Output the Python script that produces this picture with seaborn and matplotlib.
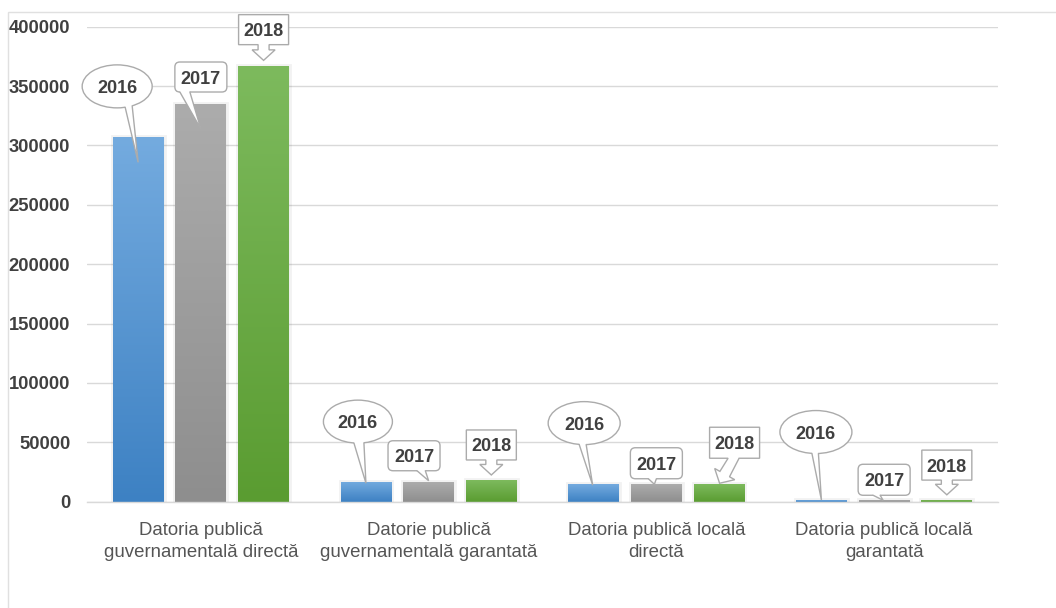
import numpy as np
import pandas as pd
import matplotlib
matplotlib.use("Agg")
import matplotlib.pyplot as plt
import matplotlib.patches as mpatches
import matplotlib.transforms as mtransforms
import matplotlib.patheffects as pe
from matplotlib.colors import LinearSegmentedColormap
import seaborn as sns

# ---- data -------------------------------------------------------------
CATEGORIES = [
    "Datoria publică\nguvernamentală directă",
    "Datorie publică\nguvernamentală garantată",
    "Datoria publică locală\ndirectă",
    "Datoria publică locală\ngarantată",
]
YEARS = ["2016", "2017", "2018"]
DEBT_2016 = [306800, 16900, 14800, 1400]
DEBT_2017 = [334900, 16800, 14700, 1200]
DEBT_2018 = [366600, 18300, 14700, 1600]
YTICKS = [0, 50000, 100000, 150000, 200000, 250000, 300000, 350000, 400000]
YTICK_LABELS = ["0", "50000", "100000", "150000", "200000", "250000",
                "300000", "350000", "400000"]

# ---- styling ----------------------------------------------------------
TOP_COLORS = {"2016": "#74abdf", "2017": "#acacac", "2018": "#7dba5d"}
BOTTOM_COLORS = {"2016": "#3d81c3", "2017": "#8e8e8e", "2018": "#5a9c31"}
MID_COLORS = {"2016": "#5b9bd5", "2017": "#a5a5a5", "2018": "#70ad47"}
GRID = "#d9d9d9"
TEXT = "#404040"
CALLOUT_EDGE = "#ababab"

# callout geometry in pixels, relative to the top-centre of each bar
CALLOUT_LAYOUT = {
    "2016": [  # oval callouts: centre, size, tip, wedge base (x rel. centre)
        dict(c=(-21, 51), w=70, h=43, tip=(0, -25), base=(8, 15)),
        dict(c=(-8, 60), w=69, h=43, tip=(0, -1.5), base=(-4, 6)),
        dict(c=(-9.5, 61), w=72, h=43, tip=(-1, -1), base=(-5, 2)),
        dict(c=(-5.5, 68), w=72, h=43, tip=(0, 0), base=(-4, 2.5)),
    ],
    "2017": [  # rounded rectangles: wedge base (x rel. bar centre)
        dict(c=(0, 27), w=52, h=30, tip=(0, -25), base=(-21, -11)),
        dict(c=(-14.6, 26), w=52, h=30, tip=(0, 1), base=(-11.6, -3.3)),
        dict(c=(0, 21), w=52, h=31, tip=(-2, 0), base=(-8, 0)),
        dict(c=(0, 20.5), w=52, h=31, tip=(-1, 0), base=(-11, -4)),
    ],
    "2018": [  # rectangles with a down arrow: arrow base offset from centre
        dict(c=(0, 36.7), w=50, h=30, tip=(0, 6), base=0),
        dict(c=(0, 35), w=50, h=30, tip=(0, 5), base=0),
        dict(c=(15.5, 41.5), w=50, h=31, tip=(0.5, 1), base=-1),
        dict(c=(0, 34.7), w=50, h=30, tip=(0, 5), base=0),
    ],
}

W, H, DPI = 1056, 608, 100

sns.set_theme(style="white")
plt.rcParams["font.family"] = ["Liberation Sans", "DejaVu Sans"]

df = pd.DataFrame({
    "categorie": CATEGORIES * 3,
    "an": [y for y in YEARS for _ in CATEGORIES],
    "valoare": DEBT_2016 + DEBT_2017 + DEBT_2018,
})

fig = plt.figure(figsize=(W / DPI, H / DPI), dpi=DPI)
ax = fig.add_axes([87 / W, 1 - 501.7 / H, (998 - 87) / W, (501.7 - 26.7) / H])

sns.barplot(data=df, x="categorie", y="valoare", hue="an",
            order=CATEGORIES, hue_order=YEARS,
            palette=[MID_COLORS[y] for y in YEARS],
            width=0.826, gap=0.19, linewidth=0, edgecolor="none",
            legend=False, errorbar=None, ax=ax, zorder=2)

ax.set_ylim(0, 400000)
ax.set_xlim(-0.5, len(CATEGORIES) - 0.5)

# vertical gradient fill + soft outer shadow on every bar
grad = np.linspace(0, 1, 256).reshape(-1, 1)
for year, container in zip(YEARS, ax.containers):
    cmap = LinearSegmentedColormap.from_list(
        year, [BOTTOM_COLORS[year], TOP_COLORS[year]])
    for bar in container:
        bar.set_path_effects([
            pe.Stroke(linewidth=3.5, foreground="black", alpha=0.05),
            pe.Normal(),
        ])
        x0, y0, bw, bh = bar.get_bbox().bounds
        im = ax.imshow(grad, cmap=cmap, origin="lower", aspect="auto",
                       extent=[x0, x0 + bw, y0, y0 + bh],
                       interpolation="bicubic", zorder=2.1)
        im.set_clip_path(bar)

ax.set_ylim(0, 400000)
ax.set_xlim(-0.5, len(CATEGORIES) - 0.5)

# axes, grid and ticks
ax.set_yticks(YTICKS)
ax.set_yticklabels(YTICK_LABELS)
ax.yaxis.grid(True, color=GRID, linewidth=1)
ax.set_axisbelow(True)
for side in ("top", "right", "left"):
    ax.spines[side].set_visible(False)
ax.spines["bottom"].set_color(GRID)
ax.spines["bottom"].set_linewidth(1)
ax.tick_params(axis="both", length=0)
ax.tick_params(axis="y", pad=12, labelsize=13.2, labelcolor=TEXT)
ax.tick_params(axis="x", pad=14.5, labelsize=13.4, labelcolor="#555555")
for lab in ax.get_yticklabels():
    lab.set_fontweight("bold")
for lab in ax.get_xticklabels():
    lab.set_linespacing(1.42)
ax.set_xlabel("")
ax.set_ylabel("")


def pixel_trans(x, y):
    return (mtransforms.Affine2D().scale(1 / fig.dpi) + fig.dpi_scale_trans
            + mtransforms.ScaledTranslation(x, y, ax.transData))


def draw_wedge(trans, b1, b2, tip, z):
    fill = mpatches.Polygon([(b1[0], b1[1] + 3), b1, tip, b2, (b2[0], b2[1] + 3)],
                            closed=True, facecolor="white", edgecolor="none",
                            transform=trans, zorder=z + 0.1, clip_on=False)
    ax.add_patch(fill)
    ax.plot([b1[0], tip[0], b2[0]], [b1[1], tip[1], b2[1]], color=CALLOUT_EDGE,
            lw=1, transform=trans, zorder=z + 0.2, clip_on=False,
            solid_joinstyle="miter")


def callout(year, x, y, spec, z):
    trans = pixel_trans(x, y)
    cx, cy = spec["c"]
    w, h = spec["w"], spec["h"]
    tip = spec["tip"]
    if year == "2016":
        ax.add_patch(mpatches.Ellipse((cx, cy), w, h, facecolor="white",
                                      edgecolor=CALLOUT_EDGE, lw=1,
                                      transform=trans, zorder=z, clip_on=False))
        pts = []
        for bx in spec["base"]:
            by = -(h / 2) * np.sqrt(max(0.0, 1 - (2 * bx / w) ** 2))
            pts.append((cx + bx, cy + by))
        draw_wedge(trans, pts[0], pts[1], tip, z)
    elif year == "2017":
        ax.add_patch(mpatches.FancyBboxPatch(
            (cx - w / 2, cy - h / 2), w, h,
            boxstyle="round,pad=0,rounding_size=5", facecolor="white",
            edgecolor=CALLOUT_EDGE, lw=1, transform=trans, zorder=z,
            clip_on=False))
        yb = cy - h / 2
        draw_wedge(trans, (spec["base"][0], yb), (spec["base"][1], yb), tip, z)
    else:
        x0, x1, y0, y1 = cx - w / 2, cx + w / 2, cy - h / 2, cy + h / 2
        b = np.array([cx + spec["base"], y0])
        t = np.array(tip, dtype=float)
        d = t - b
        L = np.hypot(*d)
        u = d / L
        n = np.array([-u[1], u[0]])
        stem = max(L - 10.5, 2)
        sw, hw = 5.5, 11.5
        pts = [(x0, y1), (x0, y0), (b[0] - sw, y0),
               tuple(b - n * sw + u * stem), tuple(b - n * hw + u * stem),
               tuple(t),
               tuple(b + n * hw + u * stem), tuple(b + n * sw + u * stem),
               (b[0] + sw, y0), (x1, y0), (x1, y1)]
        ax.add_patch(mpatches.Polygon(pts, closed=True, facecolor="white",
                                      edgecolor=CALLOUT_EDGE, lw=1,
                                      joinstyle="miter", transform=trans,
                                      zorder=z, clip_on=False))
    ax.text(cx, cy - 6.5, year, transform=trans, ha="center", va="baseline",
            fontsize=13, fontweight="bold", color=TEXT, zorder=z + 0.5,
            clip_on=False)


z = 5
for year, container in zip(YEARS, ax.containers):
    for bar, spec in zip(container, CALLOUT_LAYOUT[year]):
        bx = bar.get_x() + bar.get_width() / 2
        by = bar.get_height()
        callout(year, bx, by, spec, z)
        z += 1

ax.set_ylim(0, 400000)
ax.set_xlim(-0.5, len(CATEGORIES) - 0.5)

# outer chart frame
fig.add_artist(mpatches.Rectangle((8 / W, -0.1), 1.2, 1.1 - 12 / H,
                                  transform=fig.transFigure, fill=False,
                                  edgecolor="#e0e0e0", lw=1))

fig.savefig("out.png", dpi=DPI, facecolor="white")
